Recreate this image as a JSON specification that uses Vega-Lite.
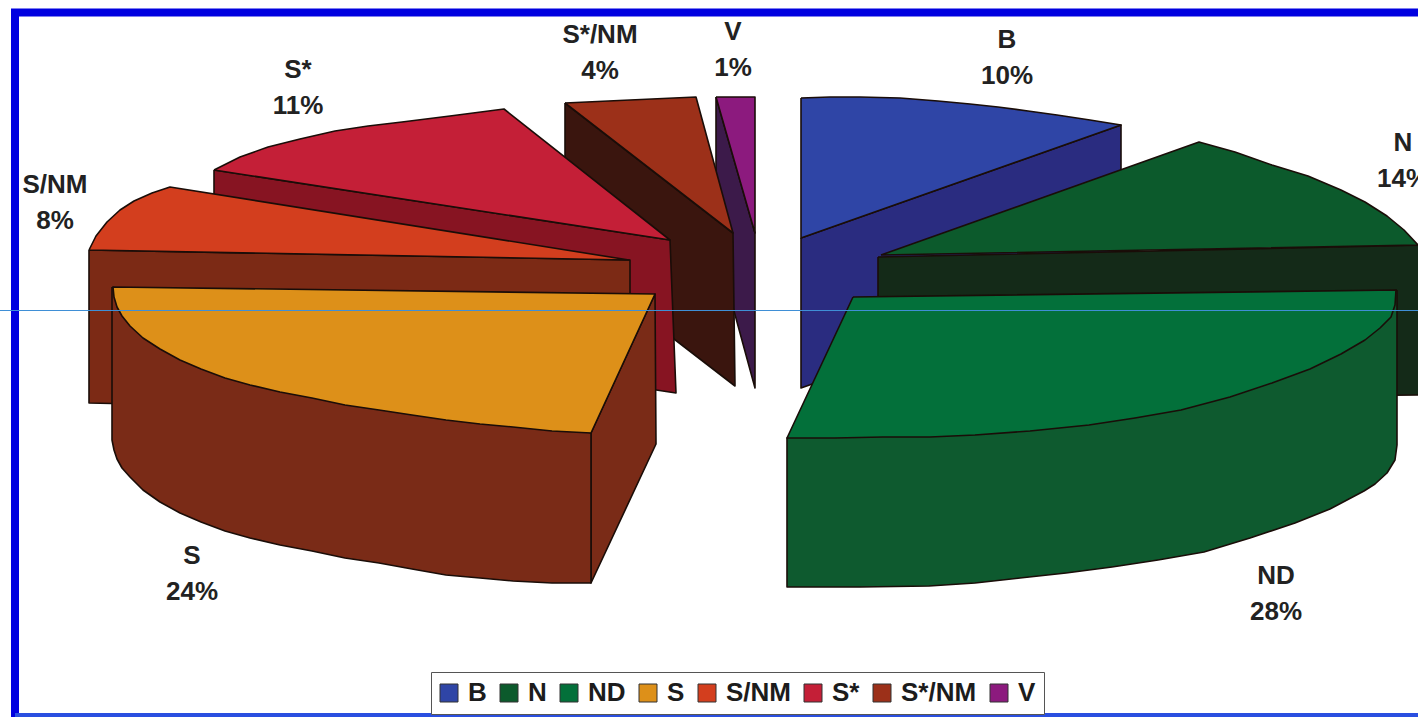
{
"$schema":"https://vega.github.io/schema/vega-lite/v6.json",
"width":1418,"height":717,"padding":0,
"autosize":"none",
"background":"#ffffff",
"view":{"stroke":null},
"datasets":{
"faces":[
{"face":"B side","poly":"b1","seq":1,"x":801,"y":238},{"face":"B side","poly":"b1","seq":2,"x":1121,"y":125},{"face":"B side","poly":"b1","seq":3,"x":1121,"y":275},{"face":"B side","poly":"b1","seq":4,"x":801,"y":388},{"face":"B side","poly":"b1","seq":5,"x":801,"y":238},
{"face":"B","poly":"b2","seq":1,"x":801,"y":98},{"face":"B","poly":"b2","seq":2,"x":830,"y":97},{"face":"B","poly":"b2","seq":3,"x":860,"y":97},{"face":"B","poly":"b2","seq":4,"x":900,"y":98},{"face":"B","poly":"b2","seq":5,"x":938,"y":101},{"face":"B","poly":"b2","seq":6,"x":970,"y":104},{"face":"B","poly":"b2","seq":7,"x":998,"y":107},{"face":"B","poly":"b2","seq":8,"x":1028,"y":111},{"face":"B","poly":"b2","seq":9,"x":1057,"y":115},{"face":"B","poly":"b2","seq":10,"x":1090,"y":120},{"face":"B","poly":"b2","seq":11,"x":1121,"y":125},{"face":"B","poly":"b2","seq":12,"x":801,"y":238},{"face":"B","poly":"b2","seq":13,"x":801,"y":98},
{"face":"N side","poly":"n1","seq":1,"x":878,"y":257},{"face":"N side","poly":"n1","seq":2,"x":1425,"y":245},{"face":"N side","poly":"n1","seq":3,"x":1425,"y":395},{"face":"N side","poly":"n1","seq":4,"x":878,"y":400},{"face":"N side","poly":"n1","seq":5,"x":878,"y":257},
{"face":"N","poly":"n2","seq":1,"x":881,"y":255},{"face":"N","poly":"n2","seq":2,"x":1199,"y":142},{"face":"N","poly":"n2","seq":3,"x":1235,"y":152},{"face":"N","poly":"n2","seq":4,"x":1272,"y":165},{"face":"N","poly":"n2","seq":5,"x":1308,"y":176},{"face":"N","poly":"n2","seq":6,"x":1341,"y":190},{"face":"N","poly":"n2","seq":7,"x":1365,"y":202},{"face":"N","poly":"n2","seq":8,"x":1387,"y":216},{"face":"N","poly":"n2","seq":9,"x":1404,"y":230},{"face":"N","poly":"n2","seq":10,"x":1418,"y":245},{"face":"N","poly":"n2","seq":11,"x":881,"y":255},
{"face":"ND side","poly":"d1","seq":1,"x":1397,"y":290},{"face":"ND side","poly":"d1","seq":2,"x":1397,"y":445},{"face":"ND side","poly":"d1","seq":3,"x":1395,"y":460},{"face":"ND side","poly":"d1","seq":4,"x":1387,"y":473},{"face":"ND side","poly":"d1","seq":5,"x":1375,"y":484},{"face":"ND side","poly":"d1","seq":6,"x":1364,"y":491},{"face":"ND side","poly":"d1","seq":7,"x":1330,"y":509},{"face":"ND side","poly":"d1","seq":8,"x":1295,"y":523},{"face":"ND side","poly":"d1","seq":9,"x":1250,"y":538},{"face":"ND side","poly":"d1","seq":10,"x":1204,"y":552},{"face":"ND side","poly":"d1","seq":11,"x":1158,"y":560},{"face":"ND side","poly":"d1","seq":12,"x":1112,"y":567},{"face":"ND side","poly":"d1","seq":13,"x":1066,"y":573},{"face":"ND side","poly":"d1","seq":14,"x":1020,"y":578},{"face":"ND side","poly":"d1","seq":15,"x":975,"y":583},{"face":"ND side","poly":"d1","seq":16,"x":929,"y":586},{"face":"ND side","poly":"d1","seq":17,"x":860,"y":587},{"face":"ND side","poly":"d1","seq":18,"x":787,"y":587},{"face":"ND side","poly":"d1","seq":19,"x":787,"y":438},{"face":"ND side","poly":"d1","seq":20,"x":1397,"y":290},
{"face":"ND","poly":"d2","seq":1,"x":853,"y":297},{"face":"ND","poly":"d2","seq":2,"x":1396,"y":290},{"face":"ND","poly":"d2","seq":3,"x":1395,"y":305},{"face":"ND","poly":"d2","seq":4,"x":1391,"y":317},{"face":"ND","poly":"d2","seq":5,"x":1380,"y":328},{"face":"ND","poly":"d2","seq":6,"x":1365,"y":340},{"face":"ND","poly":"d2","seq":7,"x":1341,"y":354},{"face":"ND","poly":"d2","seq":8,"x":1310,"y":369},{"face":"ND","poly":"d2","seq":9,"x":1272,"y":383},{"face":"ND","poly":"d2","seq":10,"x":1230,"y":397},{"face":"ND","poly":"d2","seq":11,"x":1181,"y":410},{"face":"ND","poly":"d2","seq":12,"x":1135,"y":418},{"face":"ND","poly":"d2","seq":13,"x":1089,"y":425},{"face":"ND","poly":"d2","seq":14,"x":1030,"y":431},{"face":"ND","poly":"d2","seq":15,"x":975,"y":435},{"face":"ND","poly":"d2","seq":16,"x":930,"y":437},{"face":"ND","poly":"d2","seq":17,"x":883,"y":437},{"face":"ND","poly":"d2","seq":18,"x":835,"y":438},{"face":"ND","poly":"d2","seq":19,"x":787,"y":438},{"face":"ND","poly":"d2","seq":20,"x":853,"y":297},
{"face":"V side","poly":"v1","seq":1,"x":716,"y":97},{"face":"V side","poly":"v1","seq":2,"x":755,"y":233},{"face":"V side","poly":"v1","seq":3,"x":755,"y":388},{"face":"V side","poly":"v1","seq":4,"x":716,"y":245},{"face":"V side","poly":"v1","seq":5,"x":716,"y":97},
{"face":"V","poly":"v2","seq":1,"x":716,"y":97},{"face":"V","poly":"v2","seq":2,"x":755,"y":97},{"face":"V","poly":"v2","seq":3,"x":755,"y":233},{"face":"V","poly":"v2","seq":4,"x":716,"y":97},
{"face":"S*/NM side","poly":"m1","seq":1,"x":565,"y":103},{"face":"S*/NM side","poly":"m1","seq":2,"x":733,"y":233},{"face":"S*/NM side","poly":"m1","seq":3,"x":735,"y":386},{"face":"S*/NM side","poly":"m1","seq":4,"x":565,"y":255},{"face":"S*/NM side","poly":"m1","seq":5,"x":565,"y":103},
{"face":"S*/NM","poly":"m2","seq":1,"x":565,"y":103},{"face":"S*/NM","poly":"m2","seq":2,"x":630,"y":100},{"face":"S*/NM","poly":"m2","seq":3,"x":696,"y":97},{"face":"S*/NM","poly":"m2","seq":4,"x":733,"y":233},{"face":"S*/NM","poly":"m2","seq":5,"x":565,"y":103},
{"face":"S* side","poly":"t1","seq":1,"x":214,"y":170},{"face":"S* side","poly":"t1","seq":2,"x":670,"y":240},{"face":"S* side","poly":"t1","seq":3,"x":676,"y":393},{"face":"S* side","poly":"t1","seq":4,"x":214,"y":323},{"face":"S* side","poly":"t1","seq":5,"x":214,"y":170},
{"face":"S*","poly":"t2","seq":1,"x":214,"y":170},{"face":"S*","poly":"t2","seq":2,"x":240,"y":157},{"face":"S*","poly":"t2","seq":3,"x":268,"y":147},{"face":"S*","poly":"t2","seq":4,"x":300,"y":139},{"face":"S*","poly":"t2","seq":5,"x":335,"y":131},{"face":"S*","poly":"t2","seq":6,"x":368,"y":126},{"face":"S*","poly":"t2","seq":7,"x":402,"y":122},{"face":"S*","poly":"t2","seq":8,"x":450,"y":116},{"face":"S*","poly":"t2","seq":9,"x":504,"y":109},{"face":"S*","poly":"t2","seq":10,"x":670,"y":240},{"face":"S*","poly":"t2","seq":11,"x":214,"y":170},
{"face":"S/NM side","poly":"q1","seq":1,"x":89,"y":250},{"face":"S/NM side","poly":"q1","seq":2,"x":630,"y":260},{"face":"S/NM side","poly":"q1","seq":3,"x":630,"y":415},{"face":"S/NM side","poly":"q1","seq":4,"x":89,"y":403},{"face":"S/NM side","poly":"q1","seq":5,"x":89,"y":250},
{"face":"S/NM","poly":"q2","seq":1,"x":89,"y":250},{"face":"S/NM","poly":"q2","seq":2,"x":96,"y":236},{"face":"S/NM","poly":"q2","seq":3,"x":107,"y":222},{"face":"S/NM","poly":"q2","seq":4,"x":120,"y":210},{"face":"S/NM","poly":"q2","seq":5,"x":134,"y":201},{"face":"S/NM","poly":"q2","seq":6,"x":152,"y":193},{"face":"S/NM","poly":"q2","seq":7,"x":170,"y":187},{"face":"S/NM","poly":"q2","seq":8,"x":629,"y":260},{"face":"S/NM","poly":"q2","seq":9,"x":89,"y":250},
{"face":"S side","poly":"s0","seq":1,"x":591,"y":433},{"face":"S side","poly":"s0","seq":2,"x":655,"y":294},{"face":"S side","poly":"s0","seq":3,"x":656,"y":444},{"face":"S side","poly":"s0","seq":4,"x":591,"y":583},{"face":"S side","poly":"s0","seq":5,"x":591,"y":433},
{"face":"S side","poly":"s1","seq":1,"x":112,"y":287},{"face":"S side","poly":"s1","seq":2,"x":112,"y":440},{"face":"S side","poly":"s1","seq":3,"x":114,"y":450},{"face":"S side","poly":"s1","seq":4,"x":117,"y":459},{"face":"S side","poly":"s1","seq":5,"x":122,"y":468},{"face":"S side","poly":"s1","seq":6,"x":130,"y":477},{"face":"S side","poly":"s1","seq":7,"x":143,"y":490},{"face":"S side","poly":"s1","seq":8,"x":160,"y":502},{"face":"S side","poly":"s1","seq":9,"x":180,"y":513},{"face":"S side","poly":"s1","seq":10,"x":201,"y":522},{"face":"S side","poly":"s1","seq":11,"x":225,"y":531},{"face":"S side","poly":"s1","seq":12,"x":250,"y":538},{"face":"S side","poly":"s1","seq":13,"x":280,"y":545},{"face":"S side","poly":"s1","seq":14,"x":312,"y":551},{"face":"S side","poly":"s1","seq":15,"x":345,"y":558},{"face":"S side","poly":"s1","seq":16,"x":379,"y":563},{"face":"S side","poly":"s1","seq":17,"x":412,"y":569},{"face":"S side","poly":"s1","seq":18,"x":446,"y":575},{"face":"S side","poly":"s1","seq":19,"x":480,"y":578},{"face":"S side","poly":"s1","seq":20,"x":513,"y":581},{"face":"S side","poly":"s1","seq":21,"x":552,"y":583},{"face":"S side","poly":"s1","seq":22,"x":591,"y":583},{"face":"S side","poly":"s1","seq":23,"x":591,"y":433},{"face":"S side","poly":"s1","seq":24,"x":112,"y":287},
{"face":"S","poly":"s2","seq":1,"x":113,"y":287},{"face":"S","poly":"s2","seq":2,"x":655,"y":294},{"face":"S","poly":"s2","seq":3,"x":591,"y":433},{"face":"S","poly":"s2","seq":4,"x":552,"y":431},{"face":"S","poly":"s2","seq":5,"x":513,"y":427},{"face":"S","poly":"s2","seq":6,"x":480,"y":424},{"face":"S","poly":"s2","seq":7,"x":446,"y":420},{"face":"S","poly":"s2","seq":8,"x":412,"y":415},{"face":"S","poly":"s2","seq":9,"x":379,"y":410},{"face":"S","poly":"s2","seq":10,"x":345,"y":405},{"face":"S","poly":"s2","seq":11,"x":312,"y":398},{"face":"S","poly":"s2","seq":12,"x":280,"y":392},{"face":"S","poly":"s2","seq":13,"x":250,"y":385},{"face":"S","poly":"s2","seq":14,"x":225,"y":378},{"face":"S","poly":"s2","seq":15,"x":201,"y":369},{"face":"S","poly":"s2","seq":16,"x":180,"y":360},{"face":"S","poly":"s2","seq":17,"x":160,"y":349},{"face":"S","poly":"s2","seq":18,"x":143,"y":338},{"face":"S","poly":"s2","seq":19,"x":130,"y":326},{"face":"S","poly":"s2","seq":20,"x":122,"y":316},{"face":"S","poly":"s2","seq":21,"x":117,"y":307},{"face":"S","poly":"s2","seq":22,"x":114,"y":297},{"face":"S","poly":"s2","seq":23,"x":113,"y":287}
],
"labels":[
{"segment":"B","share":10,"text":"B\n10%","x":1007,"y":40},
{"segment":"N","share":14,"text":"N\n14%","x":1403,"y":143},
{"segment":"ND","share":28,"text":"ND\n28%","x":1276,"y":576},
{"segment":"S","share":24,"text":"S\n24%","x":192,"y":556},
{"segment":"S/NM","share":8,"text":"S/NM\n8%","x":55,"y":185},
{"segment":"S*","share":11,"text":"S*\n11%","x":298,"y":70},
{"segment":"S*/NM","share":4,"text":"S*/NM\n4%","x":600,"y":35},
{"segment":"V","share":1,"text":"V\n1%","x":733,"y":32}
],
"frame":[{"seq":1,"x":1430,"y":12.5},{"seq":2,"x":15,"y":12.5},{"seq":3,"x":15,"y":717}]
},
"encoding":{
"x":{"field":"x","type":"quantitative","axis":null,"scale":{"domain":[0,1418],"nice":false,"zero":false}},
"y":{"field":"y","type":"quantitative","axis":null,"scale":{"domain":[717,0],"nice":false,"zero":false}}
},
"layer":[
{"data":{"name":"faces"},
 "mark":{"type":"line","clip":true,"stroke":"#1a0d08","strokeWidth":1.6,"strokeJoin":"round"},
 "encoding":{
  "detail":{"field":"poly"},
  "order":{"field":"seq","type":"quantitative"},
  "fill":{"field":"face","type":"nominal",
   "scale":{"domain":["B","N","ND","S","S/NM","S*","S*/NM","V","B side","N side","ND side","S side","S/NM side","S* side","S*/NM side","V side"],
    "range":["#2f45a6","#0c5a2c","#03703a","#dd9019","#d33e1e","#c41f37","#9c3019","#8c1a7e","#2a2c80","#142a18","#0e5a2f","#7a2b17","#7c2a15","#871422","#3a150e","#3c1a4a"]},
   "legend":{"values":["B","N","ND","S","S/NM","S*","S*/NM","V"],"title":null,"orient":"none","legendX":431,"legendY":672,
    "direction":"horizontal","columns":8,"gridAlign":"none","columnPadding":11,"padding":8,
    "strokeColor":"#555555","fillColor":"#ffffff",
    "symbolType":"square","symbolSize":324,"symbolStrokeColor":"#333333","symbolStrokeWidth":1,"symbolOffset":-3,"labelOffset":6,
    "labelFont":"Liberation Sans","labelFontSize":26,"labelFontWeight":"bold","labelColor":"#1c1c1c","labelLimit":200}}
 }},
{"data":{"name":"labels"},
 "mark":{"type":"text","clip":true,"font":"Liberation Sans","fontSize":26,"fontWeight":"bold","color":"#222222","lineBreak":"\n","lineHeight":36,"align":"center","baseline":"middle"},
 "encoding":{"text":{"field":"text"}}},
{"data":{"name":"frame"},
 "mark":{"type":"line","clip":true,"stroke":"#0000e0","strokeWidth":8,"strokeJoin":"miter"},
 "encoding":{"order":{"field":"seq","type":"quantitative"}}},
{"data":{"values":[{"x":15,"x2":1418,"y":715}]},
 "mark":{"type":"rule","stroke":"#2a4fe0","strokeWidth":4},
 "encoding":{"x2":{"field":"x2"}}},
{"data":{"values":[{"x":0,"x2":1418,"y":310.5}]},
 "mark":{"type":"rule","stroke":"#3f8fd6","strokeWidth":1},
 "encoding":{"x2":{"field":"x2"}}}
]
}
